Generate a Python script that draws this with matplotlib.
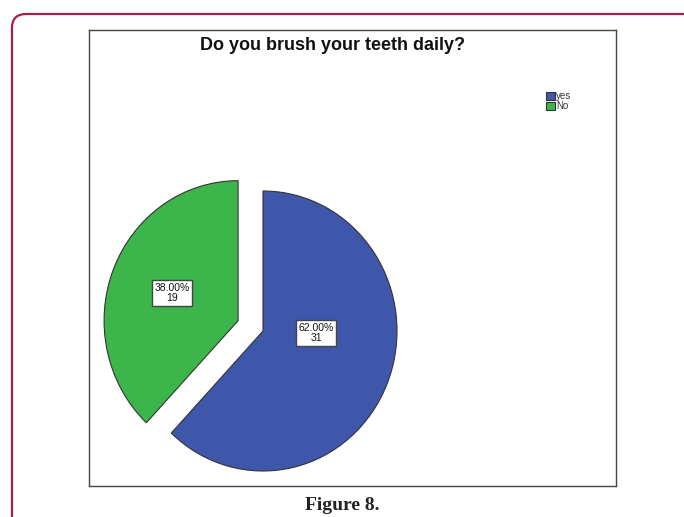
import numpy as np
import matplotlib.pyplot as plt
from matplotlib.patches import FancyBboxPatch

# Respostas
labels = ['yes', 'No']
counts = [31, 19]
percents = ['62.00%', '38.00%']
colors = ['#3e57ab', '#3cb54a']

W, H = 684, 517
fig = plt.figure(figsize=(W / 100, H / 100), dpi=100)
plt.rcParams['font.family'] = ['Liberation Sans', 'DejaVu Sans']

# moldura externa arredondada (coordenadas em pixels)
bg = fig.add_axes([0, 0, 1, 1])
bg.set_xlim(0, W)
bg.set_ylim(H, 0)
bg.axis('off')
bg.add_patch(FancyBboxPatch((12, 14), 720, 560,
                            boxstyle='round,pad=0,rounding_size=14',
                            fc='none', ec='#a3214f', lw=1.6))
bg.text(342, 505, 'Figure 8.', ha='center', va='center',
        fontsize=14, fontweight='bold', family='Liberation Serif', color='#222222')

# caixa do grafico, limites em pixels (x levemente comprimido)
x0, x1, y0, y1 = 89, 616, 30, 486
ax = fig.add_axes([x0 / W, 1 - y1 / H, (x1 - x0) / W, (y1 - y0) / H])

r = 140
cx, cy = 263, H - 331
sx = 140 / 134
wedges, _ = ax.pie(counts, colors=colors, startangle=90, counterclock=False,
                   radius=r, center=(cx, cy), explode=[0, 0.2 * r],
                   wedgeprops=dict(edgecolor='#333333', linewidth=0.8))
ax.set_aspect('auto')
ax.set_xlim(cx - (cx - x0) * sx, cx + (x1 - cx) * sx)
ax.set_ylim(H - y1, H - y0)
ax.set_frame_on(True)
for s in ax.spines.values():
    s.set_color('#444444')
    s.set_linewidth(1.0)
ax.set_xticks([])
ax.set_yticks([])

# rotulos com porcentagem e contagem
offsets = [(53, -2), (-91, 38)]
for (dx, dy), p, n in zip(offsets, percents, counts):
    ax.text(cx + dx * sx, cy + dy, f'{p}\n{n}', ha='center', va='center',
            fontsize=7.5, linespacing=1.0, color='#111111',
            bbox=dict(boxstyle='square,pad=0.25', fc='white', ec='#444444', lw=1))

fig.text(332 / W, 1 - 50 / H, 'Do you brush your teeth daily?', ha='center', va='baseline',
         fontsize=13, fontweight='bold', color='#111111')

ax.legend(wedges, labels, frameon=False, fontsize=7, loc='upper left',
          bbox_to_anchor=(546 / W, 1 - 91 / H), bbox_transform=fig.transFigure,
          handlelength=0.9, handleheight=0.9, handletextpad=0.15,
          labelspacing=0.05, borderpad=0, borderaxespad=0, labelcolor='#333333')

plt.savefig('out.png', dpi=100)
